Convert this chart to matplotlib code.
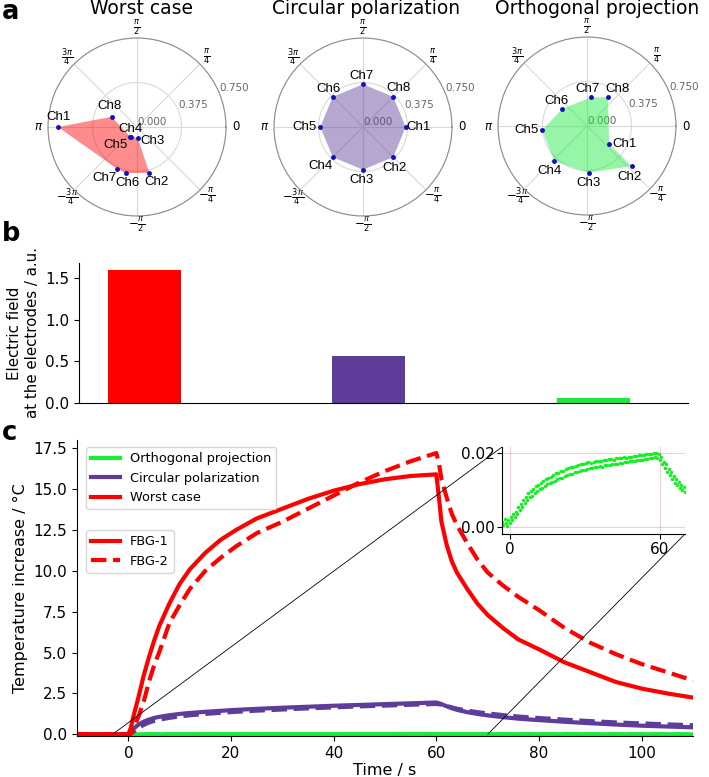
import matplotlib
matplotlib.use('Agg')
import matplotlib.pyplot as plt
from matplotlib.lines import Line2D
from mpl_toolkits.axes_grid1.inset_locator import mark_inset
import numpy as np

W, H = 709, 777

# ---- panel a: field phasor per channel (angle in degrees, magnitude) ----
channels = ['Ch1', 'Ch2', 'Ch3', 'Ch4', 'Ch5', 'Ch6', 'Ch7', 'Ch8']

worst_ang = [180, -75, -86, -122, -126, -104, -115, 158]
worst_mag = [0.666, 0.40, 0.093, 0.096, 0.10, 0.40, 0.39, 0.23]
worst_order = [0, 7, 4, 3, 2, 1, 5, 6]

circ_ang = [0, -45, -90, -135, 180, 135, 90, 45]
circ_mag = [0.36, 0.36, 0.36, 0.36, 0.36, 0.36, 0.36, 0.36]
circ_order = [0, 1, 2, 3, 4, 5, 6, 7]

orth_ang = [-39, -42, -88, -133, -175, 145, 82, 54]
orth_mag = [0.24, 0.505, 0.394, 0.405, 0.378, 0.253, 0.244, 0.30]
orth_order = [0, 1, 2, 3, 4, 5, 6, 7]

# ---- panel b ----
cases = ['Worst case', 'Circular polarization', 'Orthogonal projection']
field_vals = [1.60, 0.56, 0.06]

# ---- panel c: temperature traces ----
t = [-10, 0, 0.5, 1, 2, 3, 4, 5, 6, 8, 10, 12, 15, 18, 21, 25, 30, 35, 40, 45,
     50, 55, 60, 60.5, 61, 62, 63, 64, 66, 68, 70, 73, 76, 80, 85, 90, 95, 100, 105, 110]
worst_fbg1 = [0, 0, 0.4, 1.1, 2.3, 3.6, 4.7, 5.7, 6.6, 8.0, 9.2, 10.1, 11.1, 11.9, 12.5, 13.2,
              13.8, 14.4, 14.9, 15.3, 15.6, 15.8, 15.9, 14.5, 13.0, 11.6, 10.6, 9.9, 8.9, 8.0,
              7.3, 6.5, 5.8, 5.2, 4.4, 3.8, 3.2, 2.8, 2.5, 2.25]
worst_fbg2 = [0, 0, 0.05, 0.4, 1.1, 2.0, 3.2, 4.2, 5.0, 6.8, 7.9, 8.9, 10.0, 10.8, 11.5, 12.3,
              13.0, 13.8, 14.6, 15.4, 16.1, 16.7, 17.2, 16.6, 15.6, 14.5, 13.5, 12.8, 11.7, 10.7,
              9.9, 9.1, 8.4, 7.6, 6.5, 5.6, 4.9, 4.3, 3.8, 3.3]
circ_fbg1 = [0, 0, 0.18, 0.35, 0.6, 0.78, 0.9, 1.0, 1.07, 1.17, 1.25, 1.31, 1.38, 1.44, 1.5, 1.56,
             1.63, 1.69, 1.75, 1.8, 1.85, 1.9, 1.95, 1.9, 1.85, 1.72, 1.6, 1.5, 1.36, 1.25,
             1.16, 1.05, 0.96, 0.87, 0.77, 0.68, 0.6, 0.53, 0.48, 0.43]
circ_fbg2 = [0, 0, 0.05, 0.15, 0.4, 0.58, 0.72, 0.82, 0.9, 1.01, 1.1, 1.17, 1.25, 1.32, 1.38, 1.45,
             1.52, 1.59, 1.65, 1.71, 1.76, 1.81, 1.86, 1.84, 1.82, 1.74, 1.65, 1.57, 1.45, 1.36,
             1.28, 1.18, 1.09, 1.0, 0.9, 0.81, 0.73, 0.67, 0.61, 0.56]
orth_fbg1 = [0, 0, 0.002, 0.002, 0.003, 0.004, 0.005, 0.006, 0.007, 0.008, 0.010, 0.011, 0.012,
             0.013, 0.014, 0.015, 0.016, 0.017, 0.017, 0.018, 0.018, 0.019, 0.019, 0.019, 0.018,
             0.017, 0.016, 0.015, 0.013, 0.012, 0.011, 0.010, 0.009, 0.008, 0.007, 0.006, 0.006,
             0.005, 0.005, 0.004]
orth_fbg2 = [0, 0, 0.001, 0.001, 0.002, 0.003, 0.004, 0.005, 0.006, 0.007, 0.009, 0.010, 0.011,
             0.012, 0.013, 0.014, 0.015, 0.016, 0.016, 0.017, 0.017, 0.018, 0.018, 0.018, 0.018,
             0.017, 0.016, 0.015, 0.014, 0.013, 0.012, 0.011, 0.010, 0.009, 0.008, 0.007, 0.007,
             0.006, 0.006, 0.005]

# inset: orthogonal projection, FBG-1 raw samples (°C x 1e-3)
inset_t = [i * 0.5 - 3 for i in range(147)]
inset_mK = [1.2, 0.4, 2.0, 1.1, 0.3, 1.8, 0.9, 2.6, 1.7, 3.4,
            2.6, 4.1, 3.3, 5.2, 4.4, 6.1, 5.3, 7.2, 6.4, 8.0,
            7.1, 9.0, 8.1, 9.7, 8.4, 10.3, 9.2, 11.0, 9.6, 11.3,
            10.2, 11.9, 10.6, 12.4, 11.1, 12.9, 11.5, 13.3, 11.8, 13.4,
            12.1, 13.9, 12.4, 14.5, 12.8, 14.6, 13.1, 15.2, 13.3, 15.0,
            13.6, 15.6, 13.9, 15.9, 14.2, 16.1, 14.4, 16.3, 14.7, 16.4,
            14.8, 16.6, 15.1, 16.9, 15.3, 17.0, 15.4, 17.2, 15.6, 17.4,
            15.8, 17.3, 16.0, 17.6, 16.1, 17.7, 16.2, 17.9, 16.4, 17.8,
            16.3, 18.1, 16.6, 18.2, 16.7, 18.3, 16.8, 18.4, 16.9, 18.2,
            17.0, 18.5, 17.1, 18.6, 17.2, 18.7, 17.3, 18.8, 17.5, 18.6,
            17.6, 18.9, 17.7, 19.0, 17.8, 19.1, 17.9, 19.2, 18.0, 19.3,
            18.1, 19.4, 18.2, 19.5, 18.3, 19.6, 18.4, 19.8, 18.5, 19.7,
            18.6, 19.9, 18.8, 20.1, 18.7, 19.6, 18.1, 18.9, 17.1, 17.6,
            15.8, 16.9, 14.7, 15.6, 13.9, 14.8, 12.9, 13.7, 11.9, 12.8,
            11.2, 12.1, 10.6, 11.4, 9.9, 10.8, 9.5]

RED = '#ff0000'
PURPLE = '#5e3c99'
GREEN = '#1aeb3c'


def px_rect(x0, y0, x1, y1):
    return [x0 / W, 1 - y1 / H, (x1 - x0) / W, (y1 - y0) / H]


fig = plt.figure(figsize=(W / 100, H / 100), dpi=100)

# label offsets (pixels) for the channel names
worst_off = [(1, 10), (7, -9), (15, -3), (0, 8), (-15, -8), (2, -10), (-13, -9), (-2, 11)]
circ_off = [(13, 0), (1, -11), (-2, -10), (-12, -9), (-16, 0), (-4, 8), (-1, 8), (5, 9)]
orth_off = [(15, 0), (-2, -11), (0, -10), (-5, -10), (-16, 0), (-6, 8), (-4, 8), (10, 8)]

panels = [
    ('Worst case', (137, 127), worst_ang, worst_mag, worst_order, RED, worst_off, 142),
    ('Circular polarization', (363, 127), circ_ang, circ_mag, circ_order, PURPLE, circ_off, 366),
    ('Orthogonal projection', (587, 126), orth_ang, orth_mag, orth_order, GREEN, orth_off, 597),
]
R = 89
theta_labels = ['0', r'$\frac{\pi}{4}$', r'$\frac{\pi}{2}$', r'$\frac{3\pi}{4}$', r'$\pi$',
                r'$-\frac{3\pi}{4}$', r'$-\frac{\pi}{2}$', r'$-\frac{\pi}{4}$']

for title, (cx, cy), ang, mag, order, col, offs, tx in panels:
    ax = fig.add_axes(px_rect(cx - R, cy - R, cx + R, cy + R), projection='polar')
    th = np.deg2rad(ang)
    r = np.array(mag)
    ax.fill(th[order], r[order], color=col, alpha=0.45, lw=0, zorder=2)
    ax.plot(th, r, 'o', ms=2.5, color='#1010c0', zorder=3)
    for name, a, m, (dx, dy) in zip(channels, th, r, offs):
        ax.annotate(name, (a, m), xytext=(dx, dy), textcoords='offset pixels',
                    ha='center', va='center', fontsize=9.5, family='Liberation Sans', zorder=4)
    ax.set_ylim(0, 0.75)
    ax.set_yticks([0, 0.375, 0.75])
    ax.set_yticklabels(['0.000', '0.375', '0.750'], fontsize=7.5, color='0.4')
    ax.set_rlabel_position(22.5)
    ax.set_xticks(np.deg2rad(np.arange(0, 360, 45)))
    ax.set_xticklabels(theta_labels, fontsize=8.5)
    ax.tick_params(axis='x', pad=0, length=0)
    ax.grid(color='0.85', lw=0.8)
    ax.spines['polar'].set_color('0.55')
    ax.spines['polar'].set_linewidth(0.8)
    fig.text(tx / W, 1 - 9 / H, title, fontsize=13.5, ha='center', va='center')

# ---- panel b ----
axb = fig.add_axes(px_rect(79, 263, 688, 403))
axb.bar(range(len(cases)), field_vals, width=0.325, color=[RED, PURPLE, GREEN])
axb.set_xlim(-0.29, 2.42)
axb.set_ylim(0, 1.68)
axb.set_yticks([0, 0.5, 1.0, 1.5])
axb.set_xticks([])
axb.spines['top'].set_visible(False)
axb.spines['right'].set_visible(False)
axb.tick_params(labelsize=11)
axb.set_ylabel('Electric field\nat the electrodes / a.u.', fontsize=10.8)

# ---- panel c ----
axc = fig.add_axes(px_rect(77, 440, 693, 736))
lw = 3
axc.plot(t, orth_fbg1, color=GREEN, lw=lw)
axc.plot(t, orth_fbg2, color=GREEN, lw=lw, ls='--')
axc.plot(t, circ_fbg1, color=PURPLE, lw=lw)
axc.plot(t, circ_fbg2, color=PURPLE, lw=lw, ls='--')
axc.plot(t, worst_fbg1, color=RED, lw=lw)
axc.plot(t, worst_fbg2, color=RED, lw=lw, ls='--')
axc.set_xlim(-10, 110)
axc.set_ylim(-0.1, 18)
axc.set_yticks([0, 2.5, 5, 7.5, 10, 12.5, 15, 17.5])
axc.set_xticks([0, 20, 40, 60, 80, 100])
axc.spines['top'].set_visible(False)
axc.spines['right'].set_visible(False)
axc.tick_params(labelsize=11)
axc.set_xlabel('Time / s', fontsize=11.5, labelpad=2)
axc.set_ylabel('Temperature increase / °C', fontsize=11.5)

h1 = [Line2D([], [], color=c, lw=lw) for c in (GREEN, PURPLE, RED)]
leg1 = axc.legend(h1, ['Orthogonal projection', 'Circular polarization', 'Worst case'],
                  loc='upper left', bbox_to_anchor=(0.0146, 0.976), borderaxespad=0,
                  fontsize=9.3, handlelength=2.2)
axc.add_artist(leg1)
h2 = [Line2D([], [], color=RED, lw=lw), Line2D([], [], color=RED, lw=lw, ls='--')]
axc.legend(h2, ['FBG-1', 'FBG-2'], loc='upper left', bbox_to_anchor=(0.0146, 0.696),
           borderaxespad=0, fontsize=9.3, handlelength=2.2)

axi = fig.add_axes(px_rect(502, 447, 685, 534))
axi.plot(inset_t, np.array(inset_mK) * 1e-3, 'o', ms=2.5, color='#11f021', mew=0)
axi.set_xlim(-3, 70)
axi.set_ylim(-0.002, 0.0216)
axi.set_xticks([0, 60])
axi.set_yticks([0, 0.02])
axi.set_yticklabels(['0.00', '0.02'])
axi.tick_params(labelsize=11, pad=2)
axi.grid(color='red', alpha=0.2, lw=0.8)
axi.spines['top'].set_visible(False)
axi.spines['right'].set_visible(False)
mark_inset(axc, axi, loc1=2, loc2=4, fc='none', ec='black', lw=0.6)

# panel letters
for letter, ypx in (('a', 19), ('b', 241), ('c', 440)):
    fig.text(2 / W, 1 - ypx / H, letter, fontsize=18.5, fontweight='heavy', va='baseline')

fig.savefig('out.png', dpi=100)
